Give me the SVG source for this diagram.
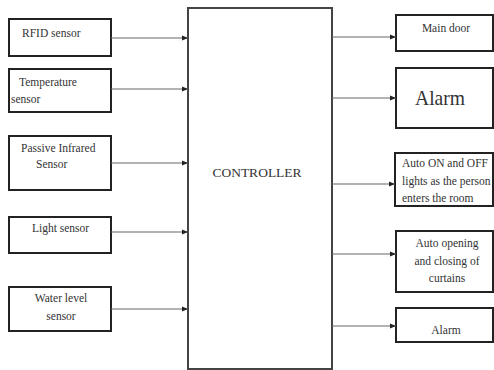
<svg xmlns="http://www.w3.org/2000/svg" width="494" height="370" viewBox="0 0 494 370">
<style>
.box{fill:#fff;stroke:#222;stroke-width:2}
.ctl{fill:#fff;stroke:#444;stroke-width:2}
.t{font-family:'Liberation Serif','Tinos','DejaVu Serif',serif;font-size:11.5px;fill:#333}
.c{text-anchor:middle}
.conn line{stroke:#666;stroke-width:1.1}
</style>
<defs>
<marker id="ah" viewBox="0 0 6 6" refX="6" refY="3" markerWidth="6" markerHeight="6" markerUnits="userSpaceOnUse" orient="auto">
<path d="M0,0.5 L6,3 L0,5.5 Z" fill="#222"/>
</marker>
</defs>
<rect width="494" height="370" fill="#fff"/>
<g id="controller">
<rect class="ctl" x="188" y="8" width="144" height="361"/>
<text class="t c" x="257" y="177" font-family="Liberation Serif, serif" style="font-size:13.5px">CONTROLLER</text>
</g>
<g id="rfid">
<rect class="box" x="9" y="19" width="102" height="37"/>
<text class="t" x="22" y="37">RFID sensor</text>
</g>
<g id="temperature">
<rect class="box" x="9" y="69" width="102" height="43"/>
<text class="t" x="19" y="86">Temperature</text>
<text class="t" x="11" y="103">sensor</text>
</g>
<g id="pir">
<rect class="box" x="9" y="136" width="102" height="54"/>
<text class="t" x="21" y="152">Passive Infrared</text>
<text class="t" x="36" y="168">Sensor</text>
</g>
<g id="light">
<rect class="box" x="9" y="217" width="102" height="36"/>
<text class="t" x="32" y="232">Light sensor</text>
</g>
<g id="water">
<rect class="box" x="9" y="287" width="102" height="44"/>
<text class="t c" x="61" y="302">Water level</text>
<text class="t c" x="61" y="320">sensor</text>
</g>
<g id="maindoor">
<rect class="box" x="396" y="15" width="97" height="36"/>
<text class="t c" x="446" y="32">Main door</text>
</g>
<g id="alarm1">
<rect class="box" x="396" y="68" width="97" height="60"/>
<text class="t c" x="440" y="105" style="font-size:22px" textLength="50" lengthAdjust="spacingAndGlyphs">Alarm</text>
</g>
<g id="lights">
<rect class="box" x="395" y="153" width="98" height="53"/>
<text class="t" x="402" y="167">Auto ON and OFF</text>
<text class="t" x="402" y="185">lights as the person</text>
<text class="t" x="402" y="202">enters the room</text>
</g>
<g id="curtains">
<rect class="box" x="396" y="231" width="97" height="61"/>
<text class="t c" x="447" y="247">Auto opening</text>
<text class="t c" x="447" y="265">and closing of</text>
<text class="t c" x="447" y="282">curtains</text>
</g>
<g id="alarm2">
<rect class="box" x="396" y="308" width="97" height="34"/>
<text class="t c" x="446" y="334">Alarm</text>
</g>
<g id="connectors" class="conn">
<line x1="111" y1="38" x2="188" y2="38" marker-end="url(#ah)"/>
<line x1="111" y1="89" x2="188" y2="89" marker-end="url(#ah)"/>
<line x1="111" y1="163" x2="188" y2="163" marker-end="url(#ah)"/>
<line x1="111" y1="232" x2="188" y2="232" marker-end="url(#ah)"/>
<line x1="111" y1="309" x2="188" y2="309" marker-end="url(#ah)"/>
<line x1="332" y1="37" x2="396" y2="37" marker-end="url(#ah)"/>
<line x1="332" y1="98" x2="396" y2="98" marker-end="url(#ah)"/>
<line x1="332" y1="184" x2="395" y2="184" marker-end="url(#ah)"/>
<line x1="332" y1="254" x2="396" y2="254" marker-end="url(#ah)"/>
<line x1="332" y1="326" x2="396" y2="326" marker-end="url(#ah)"/>
</g>
</svg>
